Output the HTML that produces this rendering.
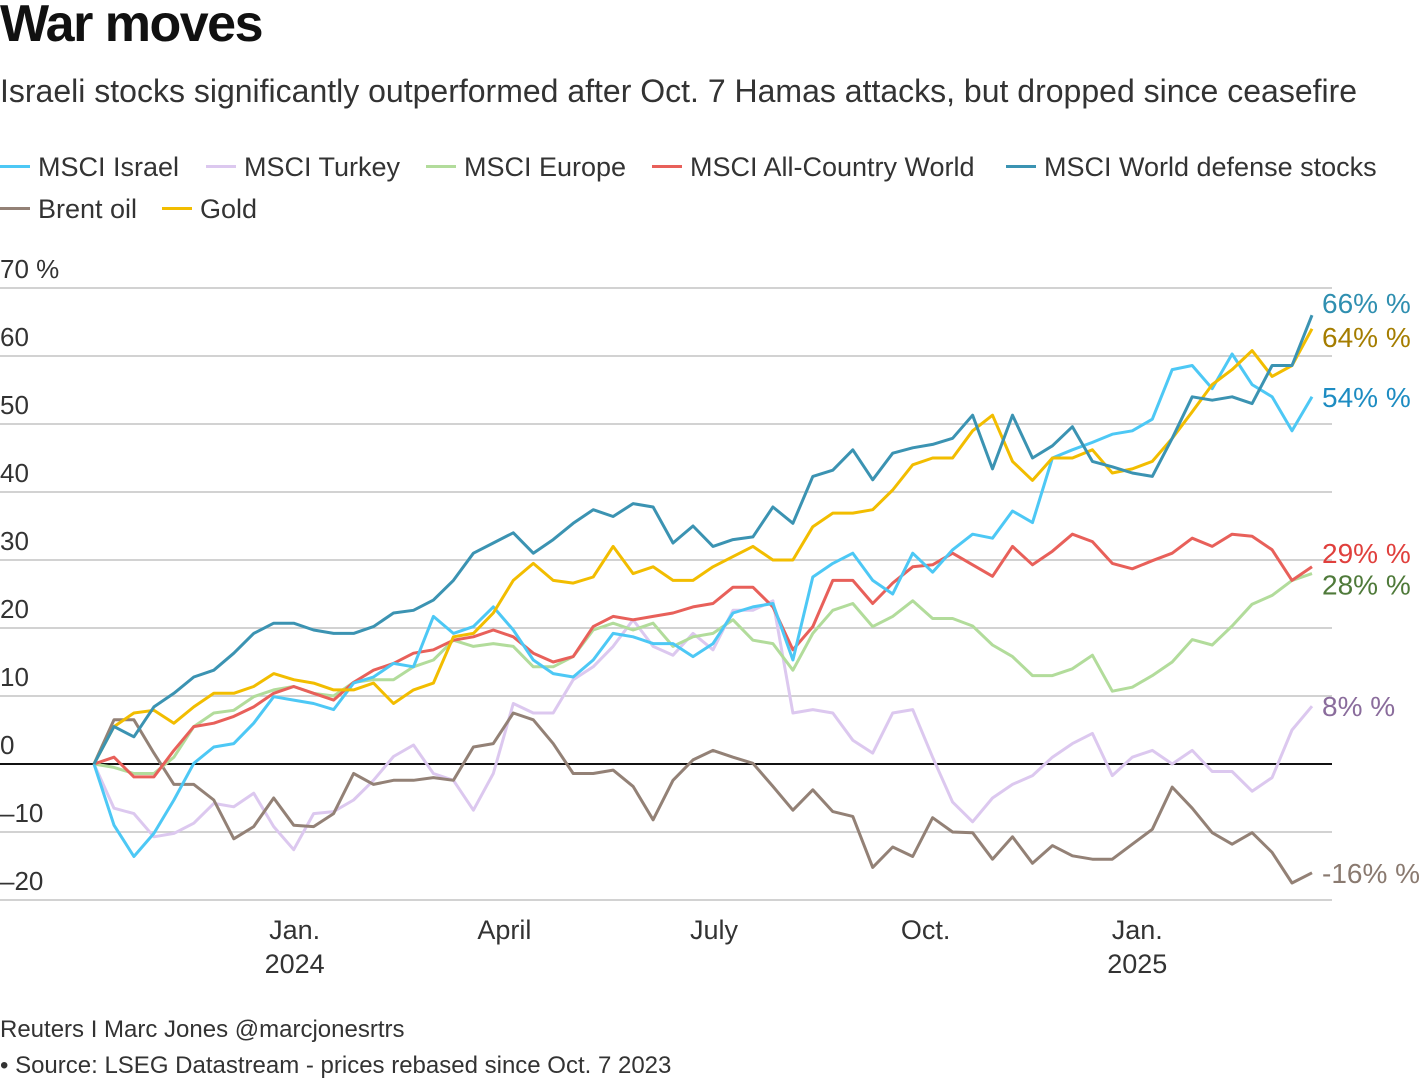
<!DOCTYPE html>
<html><head><meta charset="utf-8">
<style>
body{margin:0;background:#fff;width:1420px;height:1084px;overflow:hidden;font-family:"Liberation Sans",Arial,sans-serif;color:#222}
#title{position:absolute;left:0;top:-6px;font-size:52px;font-weight:bold;letter-spacing:-1.5px;color:#111}
#sub{position:absolute;left:0;top:73px;font-size:32px;color:#333}
.leg{position:absolute;font-size:27px;color:#333;white-space:nowrap}
.sw{display:inline-block;width:30px;height:3px;vertical-align:middle;margin-right:8px;position:relative;top:-2px}
.foot{position:absolute;left:0;font-size:24px;color:#333}
svg{position:absolute;left:0;top:0}
</style></head><body>
<div id="title">War moves</div>
<div id="sub">Israeli stocks significantly outperformed after Oct. 7 Hamas attacks, but dropped since ceasefire</div>
<div class="leg" style="left:0;top:152px"><span class="sw" style="background:#4dc8f5"></span>MSCI Israel</div>
<div class="leg" style="left:206px;top:152px"><span class="sw" style="background:#dcc8ef"></span>MSCI Turkey</div>
<div class="leg" style="left:426px;top:152px"><span class="sw" style="background:#b2dc9b"></span>MSCI Europe</div>
<div class="leg" style="left:652px;top:152px"><span class="sw" style="background:#e8605a"></span>MSCI All-Country World</div>
<div class="leg" style="left:1006px;top:152px"><span class="sw" style="background:#3b93b2"></span>MSCI World defense stocks</div>
<div class="leg" style="left:0;top:194px"><span class="sw" style="background:#938176"></span>Brent oil</div>
<div class="leg" style="left:162px;top:194px"><span class="sw" style="background:#f2bd00"></span>Gold</div>
<svg id="chart" width="1420" height="1084"></svg>
<div class="foot" style="top:1016px">Reuters I Marc Jones @marcjonesrtrs</div>
<div class="foot" style="top:1052px">• Source: LSEG Datastream - prices rebased since Oct. 7 2023</div>
<script>
const yTicks=[70,60,50,40,30,20,10,0,-10,-20];
const yTickLabels=["70 %","60","50","40","30","20","10","0","\u201310","\u201320"];
const xTickLabels=[["Jan.","2024"],["April",""],["July",""],["Oct.",""],["Jan.","2025"]];
const xTickIdx=[10.05,20.55,31.05,41.65,52.25];
const israel=[0,-9,-13.6,-10.2,-5.3,0.1,2.5,3,6,9.9,9.4,8.9,8,11.9,12.8,14.8,14.3,21.7,19.2,20.2,23.1,19.7,15.3,13.3,12.8,15.3,19.2,18.7,17.7,17.7,15.8,17.7,22.2,23.1,23.6,15.3,27.5,29.5,31,27,25,31,28.2,31.5,33.8,33.2,37.2,35.5,45,46.2,47.3,48.5,49,50.7,58,58.6,55.2,60.3,55.8,54,49,54];
const turkey=[0,-6.5,-7.3,-10.7,-10.2,-8.7,-5.8,-6.3,-4.3,-9.2,-12.6,-7.3,-7,-5.3,-2.4,1.1,2.8,-1.4,-2.4,-6.8,-1.4,8.9,7.5,7.5,12.4,14.3,17.3,21.2,17.3,16,19.2,16.8,22.6,22.6,24,7.5,8,7.5,3.5,1.6,7.5,8,1,-5.6,-8.5,-5,-3,-1.7,1,3,4.5,-1.7,1,2,0,2,-1.1,-1.1,-4,-2,5,8.5];
const europe=[0,-0.5,-1.4,-1.4,1,5.5,7.5,7.9,9.9,10.9,11.4,10.4,10,12,12.4,12.4,14.3,15.3,18.2,17.3,17.7,17.3,14.3,14.3,15.8,19.7,20.7,19.7,20.7,17.3,18.7,19.2,21.2,18.2,17.7,13.8,19.2,22.6,23.6,20.2,21.7,24,21.4,21.4,20.3,17.5,15.8,13,13,14,16,10.7,11.3,13,15,18.3,17.5,20.3,23.5,24.8,27,28];
const acwi=[0,1,-1.9,-1.9,2,5.5,6,7,8.4,10.4,11.4,10.4,9.4,12,13.8,14.8,16.3,16.8,18.2,18.7,19.7,18.7,16.3,15,15.8,20.2,21.7,21.2,21.7,22.2,23.1,23.6,26,26,23.1,16.8,20.2,27,27,23.6,26.6,29,29.3,31,29.3,27.6,32,29.3,31.3,33.8,32.7,29.5,28.7,29.9,31,33.2,32,33.8,33.5,31.5,27,29];
const defense=[0,5.5,4,8.4,10.4,12.8,13.8,16.3,19.2,20.7,20.7,19.7,19.2,19.2,20.2,22.2,22.6,24.1,27,31,32.5,34,31,33,35.4,37.4,36.4,38.3,37.8,32.5,35,32,33,33.4,37.8,35.4,42.3,43.2,46.2,41.8,45.7,46.5,47,47.9,51.3,43.4,51.3,45,46.8,49.6,44.5,43.7,42.8,42.3,47.9,54,53.5,54,53,58.6,58.6,66];
const brent=[0,6.5,6.5,1.6,-3,-3,-5.3,-11,-9.2,-5,-9,-9.2,-7.3,-1.4,-3,-2.4,-2.4,-2,-2.4,2.5,3,7.5,6.5,3,-1.4,-1.4,-0.9,-3.3,-8.2,-2.4,0.6,2,1,0.1,-3.3,-6.8,-3.8,-7,-7.7,-15.2,-12.2,-13.6,-7.9,-10,-10.1,-14,-10.7,-14.6,-12,-13.5,-14,-14,-11.8,-9.6,-3.4,-6.5,-10.1,-11.8,-10.1,-13,-17.5,-16];
const gold=[0,5.5,7.5,7.9,6,8.4,10.4,10.4,11.4,13.3,12.4,11.9,10.9,10.9,11.9,8.9,10.9,11.9,18.7,19.2,22.2,27,29.5,27,26.6,27.5,32,28,29,27,27,29,30.5,32,30,30,34.9,36.9,36.9,37.4,40.3,44,45,45,49,51.3,44.5,41.7,45,45,46.2,42.8,43.4,44.5,47.9,51.8,55.8,58,60.8,57,58.6,64];
const seriesNames=["turkey","brent","europe","acwi","israel","gold","defense"];
const seriesData=[turkey,brent,europe,acwi,israel,gold,defense];
const seriesColors=["#dcc8ef","#938176","#b2dc9b","#e8605a","#4dc8f5","#f2bd00","#3b93b2"];
const endLabels=["8% %","-16% %","28% %","29% %","54% %","64% %","66% %"];
const endColors=["#8a6c9c","#8a7a70","#4f7a3a","#e0403d","#1d8cc2","#a57d00","#2f8fb0"];
const endLabelOffset=[0,0,11,-14,0,8,-12];

const NS="http://www.w3.org/2000/svg";
const svg=document.getElementById('chart');
const X0=94,X1=1312,N=israel.length;
function xs(i){return X0+(X1-X0)*i/(N-1);}
function ys(v){return 764-v*6.8;}
function mk(t,a){const e=document.createElementNS(NS,t);for(const k in a)e.setAttribute(k,a[k]);svg.appendChild(e);return e;}
yTicks.forEach((t,k)=>{
  const l=mk('line',{x1:0,x2:1332,y1:ys(t),y2:ys(t),stroke:t===0?'#111':'#c4c4c4','stroke-width':t===0?2:1.5});
  
  
  const tx=mk('text',{x:0,y:ys(t)-10,'font-size':26,fill:'#333','font-family':'Liberation Sans, sans-serif'});
  tx.textContent=yTickLabels[k];
  
  
});
xTickIdx.forEach((ix,k)=>{
  const x=xs(ix);
  const a=mk('text',{x:x,y:939,'font-size':27,fill:'#333','text-anchor':'middle','font-family':'Liberation Sans, sans-serif'});
  a.textContent=xTickLabels[k][0];
  
  
  if(xTickLabels[k][1]){
    const b=mk('text',{x:x,y:973,'font-size':27,fill:'#333','text-anchor':'middle','font-family':'Liberation Sans, sans-serif'});
    b.textContent=xTickLabels[k][1];
    
    
  }
});
seriesData.forEach((d,s)=>{
  const pts=d.map((v,i)=>xs(i).toFixed(1)+','+ys(v).toFixed(1)).join(' ');
  const p=mk('polyline',{points:pts,fill:'none',stroke:seriesColors[s],'stroke-width':3,'stroke-linejoin':'round'});
  
  
  const t=mk('text',{x:1322,y:ys(d[d.length-1])+10+endLabelOffset[s],'font-size':28,fill:endColors[s],'font-family':'Liberation Sans, sans-serif'});
  t.textContent=endLabels[s];
  
  
});
</script>
</body></html>
